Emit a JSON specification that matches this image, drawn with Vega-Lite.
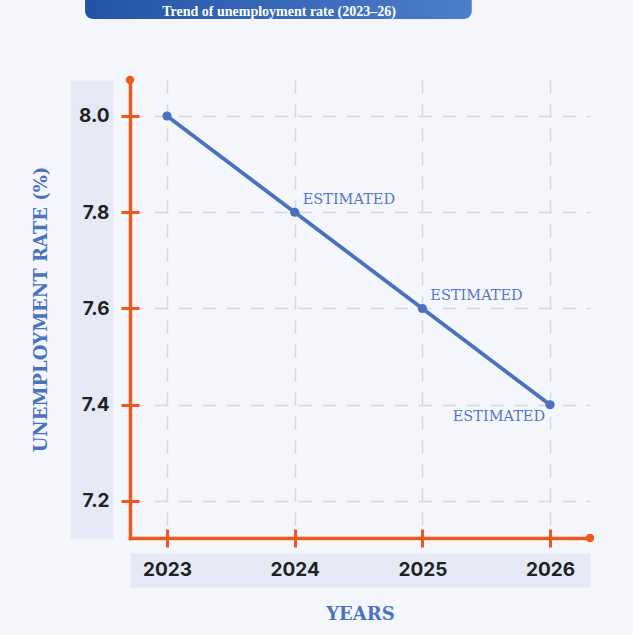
{
  "$schema": "https://vega.github.io/schema/vega-lite/v6.json",
  "width": 460,
  "height": 458,
  "autosize": {"type": "none"},
  "padding": {"left": 130, "top": 80, "right": 43, "bottom": 97},
  "background": "#f5f6fb",
  "config": {"view": {"stroke": null}, "font": "Inter"},
  "title": {
    "text": "Trend of unemployment rate (2023–26)",
    "frame": "group",
    "anchor": "middle",
    "dx": -81,
    "dy": 39,
    "offset": 0,
    "baseline": "alphabetic",
    "font": "Liberation Serif",
    "fontSize": 14,
    "fontWeight": "bold",
    "color": "#ffffff"
  },
  "data": {
    "values": [
      {"year": 2023, "rate": 8.0, "status": "ACTUAL"},
      {"year": 2024, "rate": 7.8, "status": "ESTIMATED"},
      {"year": 2025, "rate": 7.6, "status": "ESTIMATED"},
      {"year": 2026, "rate": 7.4, "status": "ESTIMATED"}
    ]
  },
  "resolve": {"axis": {"x": "independent", "y": "independent"}},
  "layer": [
    {
      "data": {"values": [{"banner": "title"}]},
      "mark": {"type": "rect", "cornerRadius": 8, "color": {"gradient": "linear", "x1": 0, "x2": 1, "y1": 0, "y2": 0, "stops": [{"offset": 0, "color": "#2353a6"}, {"offset": 1, "color": "#4c7ecb"}]}},
      "encoding": {
        "x": {"datum": 2022.358, "type": "quantitative", "scale": {"domain": [2022.71, 2026.313], "nice": false, "zero": false}, "axis": null},
        "x2": {"datum": 2025.387},
        "y": {"datum": 8.2015, "type": "quantitative", "scale": {"domain": [7.1231, 8.0748], "nice": false, "zero": false}, "axis": null},
        "y2": {"datum": 8.26}
      }
    },
    {
      "mark": {"type": "line", "color": "#4a71c0", "strokeWidth": 3.8},
      "encoding": {
        "x": {
          "field": "year", "type": "quantitative",
          "scale": {"domain": [2022.71, 2026.313], "nice": false, "zero": false},
          "axis": {"orient": "bottom", "offset": 32, "domainColor": "#e4e9f5", "domainWidth": 34, "domainCap": "butt", "ticks": false, "labels": false, "grid": false, "title": null, "zindex": 0}
        },
        "y": {
          "field": "rate", "type": "quantitative",
          "scale": {"domain": [7.1231, 8.0748], "nice": false, "zero": false},
          "axis": {"orient": "left", "offset": 38.5, "domainColor": "#e4e9f5", "domainWidth": 43, "domainCap": "butt", "ticks": false, "labels": false, "grid": false, "title": null, "zindex": 0}
        }
      }
    },
    {
      "mark": {"type": "point", "filled": true, "size": 85, "color": "#4a71c0", "opacity": 1},
      "encoding": {
        "x": {
          "field": "year", "type": "quantitative",
          "scale": {"domain": [2022.71, 2026.313], "nice": false, "zero": false},
          "axis": {
            "orient": "bottom", "values": [2023, 2024, 2025, 2026], "format": "d",
            "domainColor": "#f0581a", "domainWidth": 3.5, "domainCap": "square",
            "tickColor": "#f0581a", "tickWidth": 3, "tickSize": 9,
            "labelFont": "Inter", "labelFontSize": 19, "labelFontWeight": "bold", "labelColor": "#222222", "labelPadding": 13, "labelFlush": false, "labelOverlap": false,
            "grid": true, "gridColor": "#d6d8de", "gridDash": [13, 11], "gridWidth": 1.5,
            "title": "YEARS", "titleFont": "DejaVu Serif", "titleFontSize": 18, "titleFontWeight": "bold", "titleColor": "#4a72c2", "titlePadding": 26,
            "zindex": 0
          }
        },
        "y": {
          "field": "rate", "type": "quantitative",
          "scale": {"domain": [7.1231, 8.0748], "nice": false, "zero": false},
          "axis": {
            "orient": "left", "values": [7.2, 7.4, 7.6, 7.8, 8.0], "format": ".1f",
            "domainColor": "#f0581a", "domainWidth": 3.5, "domainCap": "square",
            "tickColor": "#f0581a", "tickWidth": 3, "tickSize": 9,
            "labelFont": "Inter", "labelFontSize": 19, "labelFontWeight": "bold", "labelColor": "#222222", "labelPadding": 12, "labelFlush": false, "labelOverlap": false,
            "grid": true, "gridColor": "#d6d8de", "gridDash": [13, 11], "gridWidth": 1.5,
            "title": "UNEMPLOYMENT RATE (%)", "titleFont": "DejaVu Serif", "titleFontSize": 18, "titleFontWeight": "bold", "titleColor": "#4a72c2", "titlePadding": 28,
            "zindex": 0
          }
        }
      }
    },
    {
      "transform": [{"filter": "datum.status == 'ESTIMATED' && datum.year < 2026"}],
      "mark": {"type": "text", "align": "left", "baseline": "middle", "dx": 8, "dy": -12, "font": "DejaVu Serif", "fontSize": 14.5, "color": "#5577c6"},
      "encoding": {
        "x": {
          "field": "year", "type": "quantitative",
          "scale": {"domain": [2022.71, 2026.313], "nice": false, "zero": false},
          "axis": {"orient": "bottom", "values": [2023, 2024, 2025, 2026], "domain": false, "labels": false, "grid": false, "tickColor": "#f0581a", "tickWidth": 3, "tickSize": -9, "title": null, "zindex": 0}
        },
        "y": {
          "field": "rate", "type": "quantitative",
          "scale": {"domain": [7.1231, 8.0748], "nice": false, "zero": false},
          "axis": {"orient": "left", "values": [7.2, 7.4, 7.6, 7.8, 8.0], "domain": false, "labels": false, "grid": false, "tickColor": "#f0581a", "tickWidth": 3, "tickSize": -9, "title": null, "zindex": 0}
        },
        "text": {"field": "status"}
      }
    },
    {
      "transform": [{"filter": "datum.status == 'ESTIMATED' && datum.year == 2026"}],
      "mark": {"type": "text", "align": "right", "baseline": "middle", "dx": -5, "dy": 12, "font": "DejaVu Serif", "fontSize": 14.5, "color": "#5577c6"},
      "encoding": {
        "x": {"field": "year", "type": "quantitative", "scale": {"domain": [2022.71, 2026.313], "nice": false, "zero": false}, "axis": null},
        "y": {"field": "rate", "type": "quantitative", "scale": {"domain": [7.1231, 8.0748], "nice": false, "zero": false}, "axis": null},
        "text": {"field": "status"}
      }
    },
    {
      "data": {"values": [{"end": "y-axis"}]},
      "mark": {"type": "point", "filled": true, "size": 70, "color": "#f0581a", "opacity": 1},
      "encoding": {
        "x": {"datum": 2022.71, "type": "quantitative", "scale": {"domain": [2022.71, 2026.313], "nice": false, "zero": false}, "axis": null},
        "y": {"datum": 8.0748, "type": "quantitative", "scale": {"domain": [7.1231, 8.0748], "nice": false, "zero": false}, "axis": null}
      }
    },
    {
      "data": {"values": [{"end": "x-axis"}]},
      "mark": {"type": "point", "filled": true, "size": 70, "color": "#f0581a", "opacity": 1},
      "encoding": {
        "x": {"datum": 2026.313, "type": "quantitative", "scale": {"domain": [2022.71, 2026.313], "nice": false, "zero": false}, "axis": null},
        "y": {"datum": 7.1231, "type": "quantitative", "scale": {"domain": [7.1231, 8.0748], "nice": false, "zero": false}, "axis": null}
      }
    }
  ]
}
